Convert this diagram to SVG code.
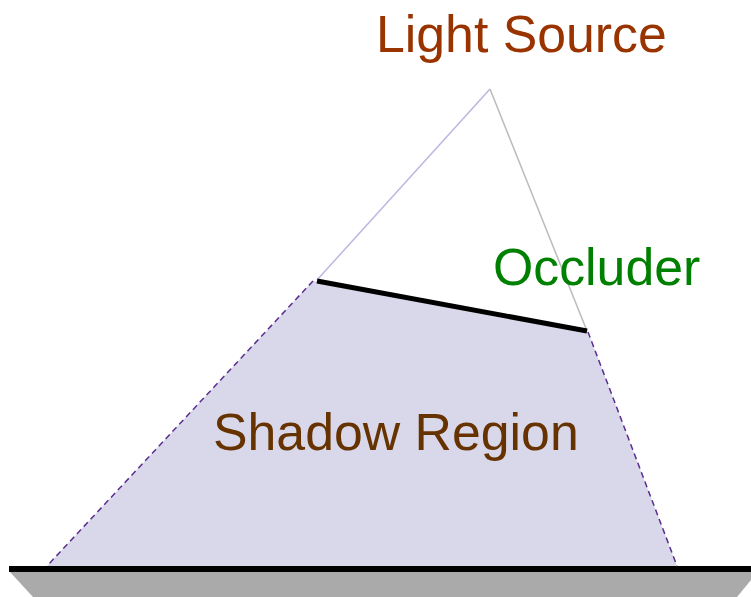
<svg xmlns="http://www.w3.org/2000/svg" width="751" height="597" viewBox="0 0 751 597">
<style>
.lbl{font-family:"Liberation Sans",Arial,sans-serif;font-size:51.8px}
</style>
<rect width="751" height="597" fill="#ffffff"/>
<g id="shadow-region">
<polygon points="313,281 588,332 677,566 47,566" fill="#d8d8ea"/>
<line x1="313" y1="281" x2="47" y2="566" stroke="#5b2d8e" stroke-width="1.5" stroke-dasharray="6,4"/>
<line x1="588" y1="332" x2="677" y2="566" stroke="#5b2d8e" stroke-width="1.5" stroke-dasharray="6,4"/>
<text class="lbl" x="213" y="450" fill="#663300">Shadow Region</text>
</g>
<g id="connectors">
<line x1="490" y1="89" x2="317" y2="280" stroke="#b8b8e0" stroke-width="1.5"/>
<line x1="490" y1="89" x2="587" y2="331" stroke="#bbbbbb" stroke-width="1.5"/>
</g>
<g id="light-source">
<text class="lbl" x="376" y="52" fill="#993300">Light Source</text>
</g>
<g id="occluder">
<line x1="317" y1="281" x2="587" y2="331" stroke="#000000" stroke-width="5"/>
<text class="lbl" x="493" y="285" fill="#008000">Occluder</text>
</g>
<g id="ground">
<polygon points="10,572 751,572 751,580 737,597 33,597" fill="#aaaaaa"/>
<rect x="9" y="566" width="742" height="6" fill="#000000"/>
</g>
</svg>
